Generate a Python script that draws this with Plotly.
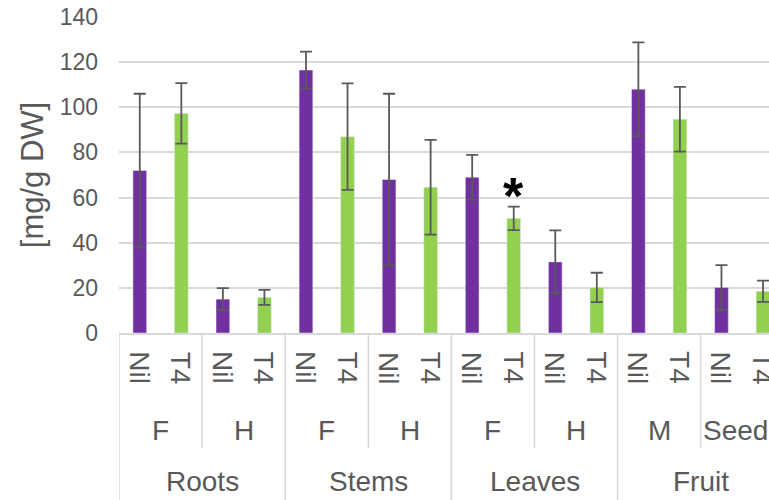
import plotly.graph_objects as go

# Hierarchical categories: organ > stage > treatment
organs = ["Roots", "Stems", "Leaves", "Fruit"]
stages = ["F", "H", "F", "H", "F", "H", "M", "Seeds"]
treatments = ["Nil", "T4"]

# Mean content [mg/g DW] and error (±) per stage
nil_vals = [72, 15, 116.5, 68, 69, 31.5, 108, 20.2]
nil_err = [34, 4.9, 8.2, 38, 9.9, 14, 20.8, 9.9]
t4_vals = [97.3, 15.8, 87, 64.6, 50.8, 20.2, 94.7, 18.5]
t4_err = [13.4, 3.3, 23.6, 21, 5.2, 6.5, 14.3, 4.7]

# Stage index (within stages) marked as significant
significant_t4 = [4]

PURPLE = "#7030A0"
GREEN = "#92D050"
GRID = "#D9D9D9"
TEXT = "#595959"
FONT = "Liberation Sans, Arial, sans-serif"

n_stage = len(stages)
x_nil = [2 * i for i in range(n_stage)]
x_t4 = [2 * i + 1 for i in range(n_stage)]
leaf_pos = list(range(2 * n_stage))
leaf_text = [treatments[i % 2] for i in leaf_pos]

err_style = dict(type="data", thickness=1.8, width=6, color="#595959")

fig = go.Figure()
fig.add_trace(go.Bar(x=x_nil, y=nil_vals, width=0.33, marker_color=PURPLE,
                     error_y=dict(array=nil_err, **err_style), name="Nil"))
fig.add_trace(go.Bar(x=x_t4, y=t4_vals, width=0.33, marker_color=GREEN,
                     error_y=dict(array=t4_err, **err_style), name="T4"))

# plot area height in px, used to place the lower label rows in paper units
PLOT_H = 316.0


def py(px_below_axis):
    return -px_below_axis / PLOT_H


shapes = []
# organ boundaries run to the bottom of the figure
for k in range(len(organs) + 1):
    xb = 4 * k - 0.5
    shapes.append(dict(type="line", xref="x", yref="paper", x0=xb, x1=xb,
                       y0=0, y1=py(200), line=dict(color=GRID, width=1.5)))
# stage boundaries inside each organ
for k in range(len(organs)):
    xb = 4 * k + 1.5
    shapes.append(dict(type="line", xref="x", yref="paper", x0=xb, x1=xb,
                       y0=0, y1=py(115), line=dict(color=GRID, width=1.5)))

label_font = dict(family=FONT, size=28, color=TEXT)
annotations = []
# treatment row, rotated to read top-to-bottom
for xp, t in zip(leaf_pos, leaf_text):
    annotations.append(dict(x=xp, y=py(35), xref="x", yref="paper", text=t,
                            textangle=90, showarrow=False, xanchor="center",
                            yanchor="middle", font=label_font))
# stage row
for i, s in enumerate(stages):
    annotations.append(dict(x=2 * i + 0.5, y=py(97), xref="x", yref="paper",
                            text=s, showarrow=False, yanchor="middle",
                            font=label_font))
# organ row
for k, o in enumerate(organs):
    annotations.append(dict(x=4 * k + 1.5, y=py(148), xref="x", yref="paper",
                            text=o, showarrow=False, yanchor="middle",
                            font=label_font))
# significance marker just above the error bar
for i in significant_t4:
    annotations.append(dict(x=x_t4[i], y=t4_vals[i] + t4_err[i] + 6.6,
                            xref="x", yref="y", text="<b>*</b>",
                            showarrow=False, yanchor="middle", yshift=-4,
                            font=dict(family=FONT, size=52, color="black")))

fig.update_layout(
    width=769, height=500,
    margin=dict(l=119, r=0, t=17, b=167),
    paper_bgcolor="white", plot_bgcolor="white",
    barmode="overlay", showlegend=False,
    font=dict(family=FONT, color=TEXT),
    shapes=shapes, annotations=annotations,
    xaxis=dict(range=[-0.5, -0.5 + 650 / 41.55], showticklabels=False,
               ticks="", showgrid=False, showline=True, linecolor=GRID,
               linewidth=1.5, zeroline=False, fixedrange=True),
    yaxis=dict(range=[0, 140], dtick=20, showgrid=True, gridcolor=GRID,
               gridwidth=1.5, zeroline=False, showline=False,
               tickfont=dict(size=23, color=TEXT), ticklabelstandoff=20,
               title=dict(text="[mg/g DW]", font=dict(size=31, color=TEXT),
                          standoff=6),
               fixedrange=True),
)

fig.write_html("out.html")
